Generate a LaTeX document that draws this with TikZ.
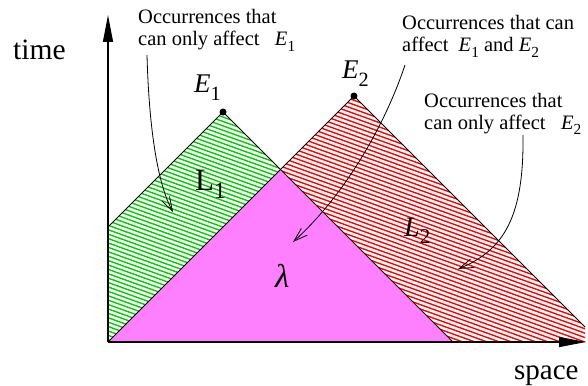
\documentclass[tikz,border=0pt]{standalone}
\usepackage{fontspec}
\usepackage{graphicx}
\setmainfont{Liberation Serif}
\usetikzlibrary{arrows.meta}
\definecolor{hgreen}{RGB}{0,205,0}
\definecolor{hred}{RGB}{255,0,0}
\definecolor{lmag}{RGB}{255,128,255}
\newcommand{\lowsub}[1]{\raisebox{-0.27em}{\scalebox{0.75}{#1}}}
\tikzset{
  note/.style={font=\fontsize{20.5}{22}\selectfont, inner sep=0pt, anchor=base west},
  lab/.style={inner sep=0pt, anchor=base west},
  pointer/.style={line width=0.8pt, -{Straight Barb[length=14pt,width=9pt]}},
  axisline/.style={line width=1.3pt, -{Triangle[length=27pt,width=10pt]}},
  edge/.style={line width=0.8pt},
  hatchg/.style={hgreen, line width=1.4pt},
  hatchr/.style={hred, line width=1.4pt}
}
\begin{document}
\begin{tikzpicture}[x=1pt,y=-1pt]
\useasboundingbox (0,0) rectangle (588,385);
\coordinate (E1) at (223,112);
\coordinate (E2) at (354,96);
\coordinate (O) at (108,342);
\coordinate (G) at (108,227);
\coordinate (A) at (280.5,169.5);
\coordinate (M) at (453,342);
\coordinate (R) at (585,327);
\coordinate (RB) at (585,342);
\coordinate (Y) at (108,15);
\coordinate (X) at (586,342);
% magenta region
\fill[lmag] (A) -- (O) -- (M) -- cycle;
% green hatched region
\begin{scope}
  \clip (E1) -- (G) -- (O) -- (A) -- cycle;
  \foreach \k in {0,...,80} \draw[hatchg] (100,{20+4.4*\k}) -- ++(200,72);
\end{scope}
% red hatched region
\begin{scope}
  \clip (E2) -- (A) -- (M) -- (RB) -- (R) -- cycle;
  \foreach \k in {0,...,90} \draw[hatchr] (270,{-40+4.4*\k}) -- ++(330,119);
\end{scope}
% outlines
\draw[edge] (G) -- (E1) -- (M);
\draw[edge] (O) -- (E2) -- (R);
% axes
\draw[axisline] (O) -- (Y);
\draw[axisline] (O) -- (X);
% events
\fill (E1) circle (3.5);
\fill (E2) circle (3.5);
% labels
\node[lab, font=\fontsize{29.5}{30}\selectfont] (time) at (13,60) {time};
\node[lab, font=\fontsize{29}{30}\selectfont] (space) at (514,379) {space};
\node[lab, font=\fontsize{27}{28}\selectfont] (e1) at (194,93) {\textit{E}\lowsub{1}};
\node[lab, font=\fontsize{27}{28}\selectfont] (e2) at (342,79) {\textit{E}\lowsub{2}};
\node[lab, font=\fontsize{31}{32}\selectfont] (l1) at (195,190) {L\lowsub{1}};
\node[lab, font=\fontsize{28}{29}\selectfont] (l2) at (404,236) {\textit{L}\lowsub{2}};
\node[lab, font=\fontsize{33}{34}\selectfont] (lam) at (275,287) {\textit{λ}};
% annotations
\node[note] (n1) at (138,24) {\begin{tabular}[t]{@{}l@{}}Occurrences that\\can only affect\hspace{0.75em}\textit{E}\lowsub{1}\end{tabular}};
\node[note] (n2) at (402,30) {\begin{tabular}[t]{@{}l@{}}Occurrences that can\\affect\hspace{0.5em}\textit{E}\lowsub{1} and \textit{E}\lowsub{2}\end{tabular}};
\node[note] (n3) at (424,107) {\begin{tabular}[t]{@{}l@{}}Occurrences that\\can only affect\hspace{0.75em}\textit{E}\lowsub{2}\end{tabular}};
% pointers
\coordinate (s1) at (147,55);
\coordinate (t1) at (173,212);
\coordinate (s2) at (405,65);
\coordinate (t2) at (293,242);
\coordinate (s3) at (523,135);
\coordinate (t3) at (458,269);
\draw[pointer] (s1) .. controls (149,130) and (158,185) .. (t1);
\draw[pointer] (s2) .. controls (385,125) and (345,195) .. (t2);
\draw[pointer] (s3) .. controls (524,215) and (505,250) .. (t3);
\end{tikzpicture}
\end{document}
